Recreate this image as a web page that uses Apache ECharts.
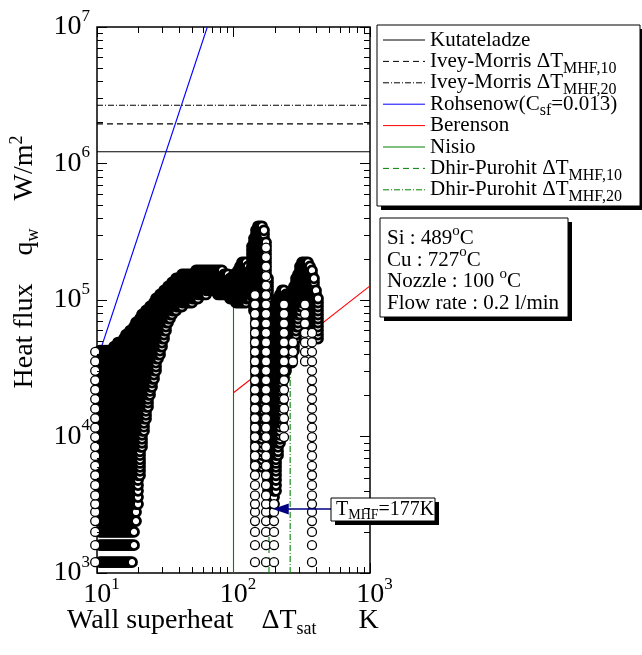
<!DOCTYPE html>
<html>
<head>
<meta charset="utf-8">
<script src="https://cdn.jsdelivr.net/npm/echarts@6/dist/echarts.min.js"></script>
<style>
  html, body { margin: 0; padding: 0; background: #fff; }
  #chart { width: 642px; height: 655px; }
</style>
</head>
<body>
<div id="chart"></div>
<script>
const FONT = "'Liberation Serif', 'Times New Roman', serif";

// heat flux levels seen in the data (W/m2): fine = densely packed runs, coarse = stacked single circles
const fineQ = [1200, 1600, 2000, 2400, 2800, 3200, 3600, 4000, 4400, 4800, 5200, 5600, 6000,
  6400, 6800, 7300, 7800, 8400, 9000, 9600, 10300, 11000, 11800, 12600, 13500, 14400, 15400,
  16500, 17700, 18900, 20200, 21600, 23100, 24800, 26500, 28400, 30400, 32500, 34800, 37200,
  39800, 42600, 45600, 48800, 52200, 55800, 59700, 63900, 68400, 73200, 78300, 83800, 89600,
  95900, 102600, 109800, 117500, 125700, 134500, 143900, 154000, 164800, 176300, 188600,
  201800, 216000, 231100, 247300, 264600, 283100, 302900, 324100, 346800, 371000];
const coarseQ = [1200, 1600, 2000, 2400, 2800, 3200, 3700, 4400, 5200, 6100, 7200, 8400, 9900,
  11600, 13600, 16000, 18800, 22000, 25800, 30300, 35500, 41700, 48900, 57400, 67300, 79000,
  92700, 108800, 127600, 149700, 175700, 206200, 242000, 284000];

// dense runs of measured points: wall superheat (K) and the q range covered
const denseDT = [10.52, 10.88, 11.25, 11.64, 12.04, 12.45, 12.88, 13.32, 13.78, 14.25,
  14.74, 15.25, 15.77, 16.31, 16.87, 17.45, 18.05, 18.67, 19.31, 19.97,
  20.66, 21.37, 22.10, 22.86, 23.64, 24.46, 25.29, 26.16, 27.06, 27.99,
  28.95, 29.94, 30.97, 32.03, 33.13, 34.27, 35.45, 36.66, 37.92, 39.22,
  40.57, 41.96, 43.40, 44.89, 46.42, 48.02, 49.67, 51.37, 53.13, 54.96,
  56.84, 58.79, 60.81, 62.90, 65.06, 67.29, 69.60, 71.99, 74.46, 77.02,
  79.66, 82.40, 85.22, 88.15, 91.18, 94.30, 97.5, 100.8, 104.3, 107.9,
  111.6, 115.4, 119.4, 123.5, 127.7, 132.1, 136.6, 141.3, 146.2, 151.2,
  156.4, 161.8, 167.3, 173.1, 179.0, 185.2, 191.5, 198.1, 204.9, 211.9,
  219.2, 226.7, 234.5, 242.5, 250.8, 259.4, 268.3, 277.5, 287.1, 296.9,
  307.0, 317.6, 328.5, 339.8, 351.4, 363.4, 375.9, 388.8, 402.2, 415.9];
const denseLo = [1200, 1200, 1200, 1200, 1200, 1200, 1200, 1200, 1200, 1200,
  1200, 1200, 1200, 1200, 1200, 1200, 1200, 1600, 2400, 3200,
  5200, 8000, 11000, 13500, 16000, 19000, 22000, 26000, 30000, 35000,
  39000, 43000, 50000, 57000, 64000, 71000, 77000, 80000, 83000, 85000,
  87000, 89000, 91000, 92000, 93000, 94000, 95000, 97000, 99000, 101000,
  103000, 105000, 107000, 109000, 111000, 113000, 114000, 112000, 110000, 108000,
  106000, 105000, 104000, 103000, 103000, 100000, 98000, 96000, 95000, 95000,
  92000, 90000, 90000, 92000, 96000, 100000, 105000, 80000, 6000, 8000,
  8000, 6000, 10000, 20000, 3000, 2800, 2800, 3000, 4000, 7000,
  9000, 12000, 25000, 30000, 34000, 34000, 34000, 40000, 50000, 60000,
  75000, 85000, 90000, 90000, 85000, 70000, 60000, 60000, 55000, 50000];
const denseHi = [44000, 44000, 43000, 43000, 43000, 44000, 45000, 46000, 47000, 49000,
  50000, 52000, 54000, 56000, 58000, 60000, 63000, 66000, 70000, 73000,
  76000, 79000, 83000, 87000, 89000, 91000, 93000, 98000, 103000, 107000,
  111000, 115000, 119000, 123000, 127000, 133000, 138000, 142000, 146000, 149000,
  152000, 156000, 160000, 160000, 158000, 157000, 160000, 163000, 166000, 168000,
  170000, 171000, 171000, 170000, 169000, 168000, 168000, 169000, 170000, 170000,
  168000, 166000, 162000, 158000, 154000, 152000, 152000, 154000, 160000, 172000,
  185000, 193000, 196000, 193000, 182000, 165000, 250000, 300000, 330000, 355000,
  365000, 355000, 330000, 280000, 150000, 90000, 88000, 90000, 95000, 105000,
  115000, 118000, 118000, 116000, 112000, 115000, 120000, 130000, 145000, 160000,
  180000, 193000, 196000, 195000, 190000, 183000, 170000, 145000, 125000, 108000];

// columns of separate stacked circles
const openDT = [9.7, 143.7, 173.1, 198.1, 234.5, 272.9, 334.1, 375.9];
const openLo = [1200, 1200, 1200, 1200, 9400, 34000, 34000, 1200];
const openHi = [44000, 125000, 270000, 3300, 100000, 52000, 100000, 65000];

// correlations
const kutateladzeQ = 1.22e6;
const iveyMorris10Q = 1.95e6;
const iveyMorris20Q = 2.67e6;
const rohsenowDT = [10.6, 64.3];
const rohsenowQ = [4.3e4, 1e7];
const berensonDT = [100, 1000];
const berensonQ = [2.09e4, 1.27e5];
const nisioDT = 100;
const nisioQ = [1e3, 1.1e5];
const dhir10DT = 182;
const dhir10Q = [1e3, 3e4];
const dhir20DT = 260;
const dhir20Q = [1e3, 3.6e4];

// T_MHF marker arrow (from label box to the data)
const arrowDT = [518, 222];
const arrowQ = 2940;

// axes and ticks
const X_MIN = 10, X_MAX = 1000, Y_MIN = 1e3, Y_MAX = 1e7;
const minorSteps = [2, 3, 4, 5, 6, 7, 8, 9];
const GRID = { left: 97, top: 27, width: 273, height: 546 };

function columnPoints(dts, los, his, levels) {
  const pts = [];
  dts.forEach(function (dt, i) {
    levels.forEach(function (q) {
      if (q >= los[i] && q <= his[i]) pts.push([dt, q]);
    });
  });
  return pts;
}
const densePts = columnPoints(denseDT, denseLo, denseHi, fineQ);
const openPts = columnPoints(openDT, openLo, openHi, coarseQ);

function corr(name, data, color, dash) {
  return {
    name: name, type: 'line', data: data, symbol: 'none', silent: true, z: 2,
    lineStyle: { color: color, width: 1.1, type: dash }
  };
}

const DASH = [6, 4];
const DASHDOT = [6, 2, 1, 2];
const GREEN = '#008000';

const tickRich = {
  b: { fontSize: 28, fontFamily: FONT, color: '#000', lineHeight: 38 },
  s: { fontSize: 17, fontFamily: FONT, color: '#000', lineHeight: 17, verticalAlign: 'top' }
};
function powLabel(v) { return '{b|10}{s|' + Math.round(Math.log10(v)) + '}'; }
const majorTick = { show: true, inside: true, length: 10, lineStyle: { color: '#000', width: 1 } };

// legend + text boxes (graphic elements so that sub/superscripts can be used)
const legendLabels = ['{t|Kutateladze}', '{t|Ivey-Morris ΔT}{s|MHF,10}', '{t|Ivey-Morris ΔT}{s|MHF,20}',
  '{t|Rohsenow(C}{s|sf}{t|=0.013)}', '{t|Berenson}', '{t|Nisio}',
  '{t|Dhir-Purohit ΔT}{s|MHF,10}', '{t|Dhir-Purohit ΔT}{s|MHF,20}'];
const legendColors = ['#000', '#000', '#000', '#0000ff', '#ff0000', GREEN, GREEN, GREEN];
const legendDash = [null, DASH, DASHDOT, null, null, null, DASH, DASHDOT];
const infoLines = ['{t|Si : 489}{p|o}{t|C}', '{t|Cu : 727}{p|o}{t|C}', '{t|Nozzle : 100 }{p|o}{t|C}', '{t|Flow rate : 0.2 l/min}'];

const richText = {
  t: { fontSize: 21, fontFamily: FONT, color: '#000', lineHeight: 30 },
  s: { fontSize: 16, fontFamily: FONT, color: '#000', lineHeight: 14, verticalAlign: 'bottom' },
  p: { fontSize: 15, fontFamily: FONT, color: '#000', lineHeight: 14, verticalAlign: 'top' }
};
const boxRich = {
  t: { fontSize: 20, fontFamily: FONT, color: '#000', lineHeight: 26 },
  s: { fontSize: 14, fontFamily: FONT, color: '#000', lineHeight: 14, verticalAlign: 'bottom' }
};

function textEl(x, y, text, rich, align, rotation) {
  return {
    type: 'text', x: x, y: y, rotation: rotation || 0, z: 100,
    style: { text: text, rich: rich, fill: '#000', font: '20px ' + FONT,
      align: align || 'left', verticalAlign: 'middle', textAlign: align || 'left', textVerticalAlign: 'middle' }
  };
}
function boxEls(x, y, w, h, off) {
  return [
    { type: 'rect', z: 90, shape: { x: x + off, y: y + off, width: w, height: h }, style: { fill: '#000' } },
    { type: 'rect', z: 91, shape: { x: x, y: y, width: w, height: h }, style: { fill: '#fff', stroke: '#000', lineWidth: 1 } }
  ];
}

const graphics = [];
boxEls(377, 25, 263, 181, 4).forEach(function (e) { graphics.push(e); });
legendLabels.forEach(function (lab, i) {
  const cy = 40 + 21.4 * i;
  graphics.push({ type: 'line', z: 95, shape: { x1: 383, y1: cy, x2: 425, y2: cy },
    style: { stroke: legendColors[i], lineWidth: 1, lineDash: legendDash[i] } });
  graphics.push(textEl(430, cy, lab, richText));
});
boxEls(380, 218, 188, 99, 4).forEach(function (e) { graphics.push(e); });
infoLines.forEach(function (lab, i) { graphics.push(textEl(387, 238.5 + 21.5 * i, lab, richText)); });
boxEls(331, 498, 104, 23, 4).forEach(function (e) { graphics.push(e); });
graphics.push(textEl(336, 509.5, '{t|T}{s|MHF}{t|=177K}', boxRich));

const titleRich = {
  t: { fontSize: 28, fontFamily: FONT, color: '#000', lineHeight: 34 },
  s: { fontSize: 18, fontFamily: FONT, color: '#000', lineHeight: 22, verticalAlign: 'bottom' },
  p: { fontSize: 18, fontFamily: FONT, color: '#000', lineHeight: 18, verticalAlign: 'top' }
};
graphics.push(textEl(67, 621, '{t|Wall superheat    ΔT}{s|sat}{t|      K}', titleRich, 'left'));
graphics.push(textEl(25, 262, '{t|Heat flux    q}{s|w}{t|    W/m}{p|2}', titleRich, 'center', Math.PI / 2));

// minor ticks at 2..9 x each decade, same log mapping as the axes over the grid box
function logPos(v, lo, hi, span) {
  return (Math.log10(v) - Math.log10(lo)) / (Math.log10(hi) - Math.log10(lo)) * span;
}
function tickLine(x1, y1, x2, y2) {
  return { type: 'line', z: 99, shape: { x1: x1, y1: y1, x2: x2, y2: y2 }, style: { stroke: '#000', lineWidth: 1 } };
}
const xb = GRID.top + GRID.height, xt = GRID.top, yl = GRID.left, yr = GRID.left + GRID.width;
[10, 100].forEach(function (d) {
  minorSteps.forEach(function (s) {
    const x = Math.round(GRID.left + logPos(d * s, X_MIN, X_MAX, GRID.width)) + 0.5;
    graphics.push(tickLine(x, xb, x, xb - 6), tickLine(x, xt, x, xt + 6));
  });
});
[1e3, 1e4, 1e5, 1e6].forEach(function (d) {
  minorSteps.forEach(function (s) {
    const y = Math.round(xb - logPos(d * s, Y_MIN, Y_MAX, GRID.height)) + 0.5;
    graphics.push(tickLine(yl, y, yl + 6, y), tickLine(yr, y, yr - 6, y));
  });
});

const chart = echarts.init(document.getElementById('chart'));
chart.setOption({
  animation: false,
  backgroundColor: '#fff',
  grid: { left: GRID.left, top: GRID.top, width: GRID.width, height: GRID.height, show: true,
    borderColor: '#000', borderWidth: 1.5, backgroundColor: 'transparent' },
  xAxis: [{
    type: 'log', logBase: 10, min: X_MIN, max: X_MAX,
    axisLine: { show: false }, axisTick: majorTick, splitLine: { show: false },
    axisLabel: { formatter: powLabel, rich: tickRich, margin: 3, padding: [0, 0, 0, 9] }
  }, {
    type: 'log', logBase: 10, min: X_MIN, max: X_MAX, position: 'top',
    axisLine: { show: false }, axisTick: majorTick, splitLine: { show: false }, axisLabel: { show: false }
  }],
  yAxis: [{
    type: 'log', logBase: 10, min: Y_MIN, max: Y_MAX,
    axisLine: { show: false }, axisTick: majorTick, splitLine: { show: false },
    axisLabel: { formatter: powLabel, rich: tickRich, margin: 7 }
  }, {
    type: 'log', logBase: 10, min: Y_MIN, max: Y_MAX, position: 'right',
    axisLine: { show: false }, axisTick: majorTick, splitLine: { show: false }, axisLabel: { show: false }
  }],
  series: [
    corr('Kutateladze', [[X_MIN, kutateladzeQ], [X_MAX, kutateladzeQ]], '#000', 'solid'),
    corr('Ivey-Morris 10', [[X_MIN, iveyMorris10Q], [X_MAX, iveyMorris10Q]], '#000', DASH),
    corr('Ivey-Morris 20', [[X_MIN, iveyMorris20Q], [X_MAX, iveyMorris20Q]], '#000', DASHDOT),
    corr('Rohsenow', [[rohsenowDT[0], rohsenowQ[0]], [rohsenowDT[1], rohsenowQ[1]]], '#0000ff', 'solid'),
    corr('Berenson', [[berensonDT[0], berensonQ[0]], [berensonDT[1], berensonQ[1]]], '#ff0000', 'solid'),
    corr('Nisio', [[nisioDT, nisioQ[0]], [nisioDT, nisioQ[1]]], GREEN, 'solid'),
    corr('Dhir-Purohit 10', [[dhir10DT, dhir10Q[0]], [dhir10DT, dhir10Q[1]]], GREEN, DASH),
    corr('Dhir-Purohit 20', [[dhir20DT, dhir20Q[0]], [dhir20DT, dhir20Q[1]]], GREEN, DASHDOT),
    {
      type: 'scatter', name: 'Measured', data: densePts, symbol: 'circle', symbolSize: 9,
      large: false, progressive: 0, clip: false, silent: true, z: 3,
      itemStyle: { color: '#fff', borderColor: '#000', borderWidth: 2.8, opacity: 1 }
    },
    {
      type: 'scatter', name: 'Measured (sparse)', data: openPts, symbol: 'circle', symbolSize: 9,
      large: false, progressive: 0, clip: false, silent: true, z: 3,
      itemStyle: { color: '#fff', borderColor: '#000', borderWidth: 1.3, opacity: 1 }
    },
    {
      type: 'line', name: 'arrow', data: [], silent: true, z: 4,
      markLine: {
        silent: true, animation: false, symbol: ['none', 'triangle'], symbolSize: [11, 16],
        label: { show: false },
        lineStyle: { color: '#000080', width: 1.5, type: 'solid' },
        data: [[{ coord: [arrowDT[0], arrowQ] }, { coord: [arrowDT[1], arrowQ] }]]
      }
    }
  ],
  graphic: { elements: graphics }
});
</script>
</body>
</html>
